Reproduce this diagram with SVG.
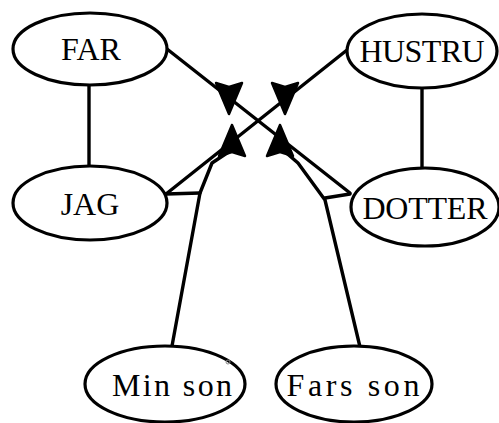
<svg xmlns="http://www.w3.org/2000/svg" xmlns:xlink="http://www.w3.org/1999/xlink" width="499" height="423" viewBox="0 0 499 423">
<style>
.node ellipse{fill:#fff;stroke:#000;stroke-width:3.2}
.node text{font-family:"Liberation Serif","Times New Roman",serif;font-size:32px;text-anchor:middle;fill:#000}
#connectors line,#connectors path{fill:none;stroke:#000;stroke-width:3.4;stroke-linejoin:round;stroke-linecap:round}
#connectors use{fill:#000;stroke:#000;stroke-width:2.5;stroke-linejoin:round}
</style>
<defs>
<path id="ah" d="M0,1 L-13,32 L0,28 L13,32 Z"/>
</defs>
<rect width="499" height="423" fill="#fff"/>
<g id="connectors">
<line x1="89" y1="85" x2="89" y2="166"/>
<line x1="422" y1="88" x2="422" y2="168"/>
<line x1="167" y1="49" x2="350" y2="193"/>
<line x1="347" y1="50" x2="166" y2="194"/>
<line x1="166" y1="194" x2="200" y2="193"/>
<line x1="325" y1="198" x2="350" y2="194"/>
<path d="M172,346 L200,193 L212,163 L230,151"/>
<path d="M360,347 L325,200 L298,163 L283,150"/>
<use xlink:href="#ah" transform="translate(229,115) rotate(180)"/>
<use xlink:href="#ah" transform="translate(285,115) rotate(180)"/>
<use xlink:href="#ah" transform="translate(232,124)"/>
<use xlink:href="#ah" transform="translate(280,124)"/>
</g>
<g id="far" class="node"><ellipse cx="90" cy="49" rx="77" ry="36"/><text x="91" y="60">FAR</text></g>
<g id="jag" class="node"><ellipse cx="90" cy="203" rx="77" ry="37"/><text x="90" y="215">JAG</text></g>
<g id="hustru" class="node"><ellipse cx="422" cy="51" rx="75" ry="37"/><text x="422" y="62" textLength="125">HUSTRU</text></g>
<g id="dotter" class="node"><ellipse cx="425" cy="207" rx="74" ry="39"/><text x="425" y="219" textLength="125">DOTTER</text></g>
<g id="minson" class="node"><ellipse cx="165" cy="384" rx="80" ry="38"/><text x="172" y="396" textLength="120">Min son</text></g>
<g id="farsson" class="node"><ellipse cx="354" cy="384" rx="78" ry="38"/><text x="353" y="396" textLength="133">Fars son</text></g>
<circle cx="228" cy="362" r="2" fill="none" stroke="#888" stroke-width="1"/>
</svg>
